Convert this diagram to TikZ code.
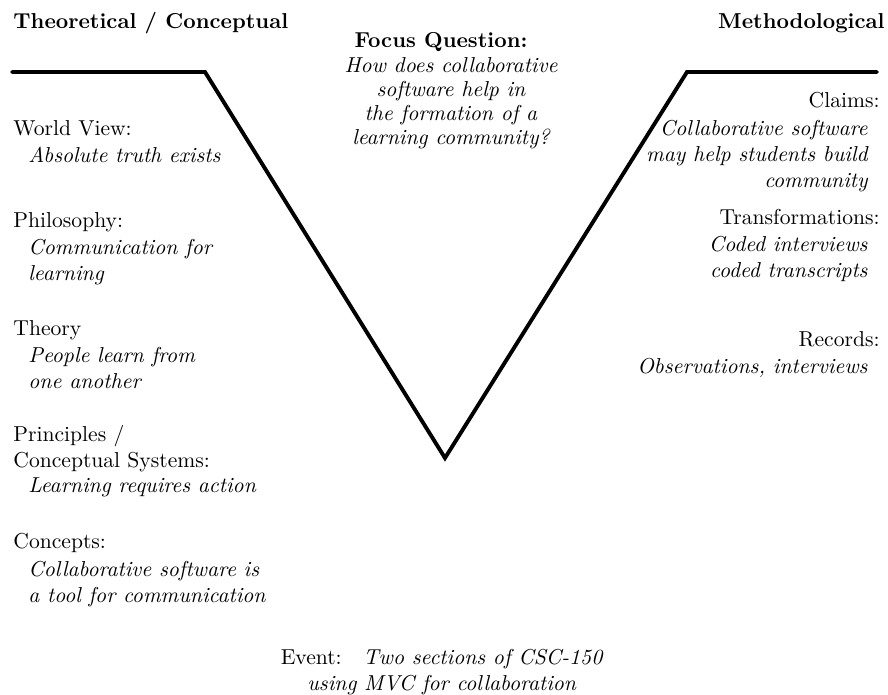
\documentclass[tikz,border=0pt]{standalone}
\usepackage{tikz}
\usetikzlibrary{positioning}

\begin{document}
\begin{tikzpicture}[
  x=0.463pt, y=-0.463pt,
  every node/.style={inner sep=0pt},
  head/.style={font=\bfseries},
  lbl/.style={anchor=base west},
  rlbl/.style={anchor=base east},
  lbody/.style={anchor=north west, align=left, font=\itshape},
  rbody/.style={anchor=north east, align=right, font=\itshape},
  vee/.style={line width=1.8pt, line join=miter, line cap=round},
]
\useasboundingbox (0,0) rectangle (888,695);

% column headings
\node[head, lbl]  (theo) at (13,29)  {Theoretical / Conceptual};
\node[head, rlbl] (meth) at (885,29) {Methodological};

% the vee
\coordinate (tl)  at (12,72);
\coordinate (tk)  at (205,72);
\coordinate (bot) at (445,458);
\coordinate (rk)  at (687,72);
\coordinate (tr)  at (877,72);
\draw[vee] (tl) -- (tk) -- (bot) -- (rk) -- (tr);

% focus question
\node[head, anchor=base] (fq) at (441,48) {Focus Question:};
\node[anchor=north, align=center, font=\itshape\fontsize{10}{11.1}\selectfont]
  (fqtext) at (451,57)
  {How does collaborative\\software help in\\the formation of a\\learning community?};

% left side
\node[lbl]   (wv)      at (13,136) {World View:};
\node[lbody] (wvtext)  at (28,147) {Absolute truth exists};
\node[lbl]   (phil)    at (13,228) {Philosophy:};
\node[lbody] (philtext) at (28,239) {Communication for\\learning};
\node[lbl]   (theory)  at (13,336) {Theory};
\node[lbody] (theorytext) at (28,347) {People learn from\\one another};
\node[anchor=north west, align=left] (prin) at (13,425) {Principles /\\Conceptual Systems:};
\node[lbody] (printext) at (28,477) {Learning requires action};
\node[lbl]   (conc)    at (13,549) {Concepts:};
\node[lbody] (conctext) at (28,561) {Collaborative software is\\a tool for communication};

% right side
\node[rlbl]  (claims)  at (880,108) {Claims:};
\node[rbody] (claimstext) at (868,120)
  {Collaborative software\\may help students build\\community};
\node[rlbl]  (trans)   at (880,225) {Transformations:};
\node[rbody] (transtext) at (868,236) {Coded interviews\\coded transcripts};
\node[rlbl]  (rec)     at (880,347) {Records:};
\node[rbody] (rectext) at (868,358) {Observations, interviews};

% event
\node[anchor=north, align=center] (event) at (442,649)
  {Event:\quad\textit{Two sections of CSC-150}\\\textit{using MVC for collaboration}};
\end{tikzpicture}
\end{document}
